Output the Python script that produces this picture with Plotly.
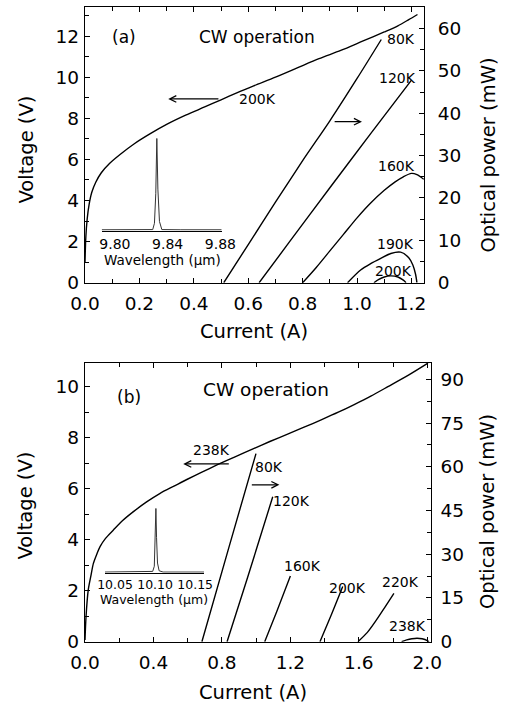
import plotly.graph_objects as go

W, H = 508, 707

# ---------------- Panel (a) data ----------------
a_iv_I = [0.0, 0.003, 0.008, 0.015, 0.025, 0.04, 0.06, 0.09, 0.13, 0.18, 0.24, 0.30, 0.37, 0.44,
          0.50, 0.56, 0.62, 0.70, 0.78, 0.86, 0.94, 1.02, 1.10, 1.15, 1.19, 1.222]
a_iv_V = [1.0, 2.2, 3.1, 3.8, 4.4, 4.9, 5.35, 5.8, 6.25, 6.75, 7.25, 7.7, 8.15, 8.55,
          8.9, 9.25, 9.58, 10.0, 10.45, 10.9, 11.3, 11.75, 12.2, 12.5, 12.8, 13.05]

a_p80_I = [0.51, 0.60, 0.70, 0.80, 0.90, 1.00, 1.089]
a_p80_P = [0.0, 9.0, 19.0, 28.8, 38.2, 48.2, 57.4]
a_p120_I = [0.64, 0.75, 0.90, 1.05, 1.20]
a_p120_P = [0.0, 9.5, 22.4, 35.2, 47.8]
a_p160_I = [0.80, 0.85, 0.90, 0.95, 1.00, 1.05, 1.10, 1.14, 1.17, 1.20, 1.22, 1.245]
a_p160_P = [0.0, 3.6, 7.5, 11.4, 15.3, 18.8, 21.8, 23.8, 25.0, 25.8, 25.5, 24.4]
a_p190_I = [0.965, 1.013, 1.05, 1.087, 1.124, 1.16, 1.19, 1.205, 1.215, 1.22]
a_p190_P = [0.0, 3.0, 4.5, 5.75, 6.9, 7.2, 5.9, 4.2, 2.0, 0.0]
a_p200_I = [1.062, 1.08, 1.10, 1.124, 1.15, 1.17, 1.18]
a_p200_P = [0.0, 0.8, 1.35, 1.6, 1.35, 0.6, 0.0]

a_spec_wl = [9.790, 9.815, 9.8287, 9.8300, 9.8310, 9.8318, 9.8326, 9.8338, 9.8356, 9.850, 9.881]
a_spec_I = [0.01, 0.01, 0.012, 0.08, 0.40, 1.0, 0.45, 0.10, 0.012, 0.01, 0.01]

# ---------------- Panel (b) data ----------------
b_iv_I = [0.0, 0.006, 0.019, 0.035, 0.049, 0.07, 0.088, 0.12, 0.166, 0.22, 0.283, 0.36, 0.439,
          0.52, 0.595, 0.68, 0.771, 0.88, 0.985, 1.08, 1.184, 1.28, 1.38, 1.48, 1.573, 1.67,
          1.77, 1.89, 2.004]
b_iv_V = [0.07, 0.98, 2.03, 2.6, 3.07, 3.45, 3.73, 4.05, 4.38, 4.75, 5.1, 5.48, 5.82,
          6.1, 6.36, 6.64, 6.93, 7.26, 7.57, 7.85, 8.14, 8.41, 8.70, 9.0, 9.3, 9.63,
          10.0, 10.45, 10.92]

b_p80_I = [0.683, 0.84, 0.999]
b_p80_P = [0.0, 32.2, 64.5]
b_p120_I = [0.83, 0.95, 1.097]
b_p120_P = [0.0, 22.0, 49.7]
b_p160_I = [1.05, 1.12, 1.20]
b_p160_P = [0.0, 10.3, 22.5]
b_p200_I = [1.373, 1.44, 1.506]
b_p200_P = [0.0, 9.3, 18.9]
b_p220_I = [1.595, 1.65, 1.70, 1.75, 1.805]
b_p220_P = [0.0, 3.2, 7.2, 11.6, 16.6]
b_p238_I = [1.85, 1.88, 1.91, 1.94, 1.97, 2.0, 2.01]
b_p238_P = [0.0, 0.6, 1.0, 1.2, 1.0, 0.4, 0.0]

b_spec_wl = [10.0375, 10.09, 10.097, 10.099, 10.1005, 10.101, 10.1018, 10.103, 10.105, 10.11, 10.161]
b_spec_I = [0.01, 0.01, 0.02, 0.10, 0.60, 1.0, 0.55, 0.15, 0.03, 0.01, 0.01]

# text labels
a_labels = [("80K", 1.163, 57.5), ("120K", 1.149, 48.3), ("160K", 1.145, 27.5),
            ("190K", 1.142, 9.1), ("200K", 1.134, 2.75)]
b_labels = [("80K", 1.077, 59.8), ("120K", 1.209, 48.3), ("160K", 1.27, 25.8),
            ("200K", 1.531, 18.25), ("220K", 1.841, 20.65), ("238K", 1.882, 5.4)]

FONT = "DejaVu Sans"
LW = 1.4


def px_x(p):
    return p / W


def px_y(p):
    return 1 - p / H


fig = go.Figure()


def line(x, y, xa, ya, color="black", width=LW, smooth=True):
    fig.add_trace(go.Scatter(x=x, y=y, xaxis=xa, yaxis=ya, mode="lines",
                             line=dict(color=color, width=width,
                                       shape="spline" if smooth else "linear",
                                       smoothing=0.8),
                             showlegend=False, hoverinfo="skip"))


# panel (a)
line(a_iv_I, a_iv_V, "x", "y")
for xs, ys in [(a_p80_I, a_p80_P), (a_p120_I, a_p120_P), (a_p160_I, a_p160_P),
               (a_p190_I, a_p190_P), (a_p200_I, a_p200_P)]:
    line(xs, ys, "x", "y2")
line(a_spec_wl, a_spec_I, "x3", "y5", color="#333", width=1.0, smooth=False)

# panel (b)
line(b_iv_I, b_iv_V, "x2", "y3")
for xs, ys in [(b_p80_I, b_p80_P), (b_p120_I, b_p120_P), (b_p160_I, b_p160_P),
               (b_p200_I, b_p200_P), (b_p220_I, b_p220_P), (b_p238_I, b_p238_P)]:
    line(xs, ys, "x2", "y4")
line(b_spec_wl, b_spec_I, "x4", "y6", color="#333", width=1.0, smooth=False)

tickfont = dict(family=FONT, size=18.5, color="black")
common = dict(showline=True, linecolor="black", linewidth=1.3, ticks="inside",
              ticklen=5, tickwidth=1.2, tickcolor="black", showgrid=False,
              zeroline=False, tickfont=tickfont, automargin=False)
minor_c = dict(ticks="inside", ticklen=4, tickcolor="black", tickwidth=1.1)

fig.update_layout(
    width=W, height=H, margin=dict(l=0, r=0, t=0, b=0, autoexpand=False),
    paper_bgcolor="white", plot_bgcolor="rgba(0,0,0,0)",
    showlegend=False,
    xaxis=dict(domain=[px_x(85), px_x(424)], range=[0, 1.246], anchor="y",
               tickvals=[0, 0.2, 0.4, 0.6, 0.8, 1.0, 1.2], tickformat=".1f",
               mirror="ticks", ticklabelstandoff=4,
               minor=dict(dtick=0.1, **minor_c), **common),
    yaxis=dict(domain=[px_y(282.7), px_y(7.3)], range=[0, 13.4], anchor="x",
               dtick=2, minor=dict(dtick=1, **minor_c), ticklabelstandoff=1, **common),
    yaxis2=dict(domain=[px_y(282.7), px_y(7.3)], range=[0, 65], anchor="x",
                overlaying="y", side="right", dtick=10,
                minor=dict(dtick=5, **minor_c), ticklabelstandoff=9, **common),
    xaxis2=dict(domain=[px_x(85), px_x(430.7)], range=[0, 2.02], anchor="y3",
                tickvals=[0, 0.4, 0.8, 1.2, 1.6, 2.0], tickformat=".1f",
                mirror="ticks", ticklabelstandoff=4,
                minor=dict(dtick=0.2, **minor_c), **common),
    yaxis3=dict(domain=[px_y(641.7), px_y(362.7)], range=[0, 10.94], anchor="x2",
                dtick=2, minor=dict(dtick=1, **minor_c), ticklabelstandoff=1, **common),
    yaxis4=dict(domain=[px_y(641.7), px_y(362.7)], range=[0, 95.7], anchor="x2",
                overlaying="y3", side="right", dtick=15,
                minor=dict(dtick=7.5, **minor_c), ticklabelstandoff=5, **common),
    xaxis3=dict(domain=[px_x(101.7), px_x(221.7)], range=[9.79, 9.881], anchor="y5",
                showline=True, linecolor="black", linewidth=1.0, ticks="",
                tickvals=[9.80, 9.84, 9.88], tickformat=".2f", showgrid=False,
                zeroline=False, tickangle=0, automargin=False,
                tickfont=dict(family=FONT, size=14, color="black")),
    yaxis5=dict(domain=[px_y(230.7), px_y(138.3)], range=[0, 1], anchor="x3",
                visible=False),
    xaxis4=dict(domain=[px_x(105), px_x(204)], range=[10.0375, 10.161], anchor="y6",
                showline=True, linecolor="black", linewidth=1.0, ticks="",
                tickvals=[10.05, 10.10, 10.15], tickformat=".2f", showgrid=False,
                zeroline=False, tickangle=0, automargin=False,
                tickfont=dict(family=FONT, size=12.5, color="black")),
    yaxis6=dict(domain=[px_y(572.7), px_y(508.3)], range=[0, 1], anchor="x4",
                visible=False),
)

ann = []


def txt(t, x, y, size, xref="paper", yref="paper", angle=0, paper=True):
    if paper:
        x, y = px_x(x), px_y(y)
    ann.append(dict(text=t, x=x, y=y, xref=xref, yref=yref, showarrow=False,
                    textangle=angle, xanchor="center", yanchor="middle",
                    font=dict(family=FONT, size=size, color="black")))


# axis titles
txt("Voltage (V)", 25.5, 150, 19.5, angle=-90)
txt("Optical power (mW)", 487.5, 155, 19.5, angle=-90)
txt("Current (A)", 253.5, 331, 19.5)
txt("Voltage (V)", 25.5, 506, 19.5, angle=-90)
txt("Optical power (mW)", 487.5, 511.5, 19.5, angle=-90)
txt("Current (A)", 252.5, 692, 19.5)

# panel titles
txt("(a)", 123.5, 37, 17)
txt("CW operation", 257.3, 37, 17)
txt("(b)", 129, 396.5, 17)
txt("CW operation", 266, 390, 18.5)

# inset titles
txt("Wavelength (µm)", 162, 260, 13.5)
txt("Wavelength (µm)", 153.5, 599, 12.5)

# curve labels
for t, x, y in a_labels:
    txt(t, x, y, 14, xref="x", yref="y2", paper=False)
txt("200K", 0.634, 8.94, 14, xref="x", yref="y", paper=False)
for t, x, y in b_labels:
    txt(t, x, y, 14, xref="x2", yref="y4", paper=False)
txt("238K", 0.74, 7.52, 14, xref="x2", yref="y3", paper=False)


def arrow(x0, x1, y, xref, yref):
    # arrow pointing from x0 (tail) to x1 (head)
    ann.append(dict(x=x1, y=y, ax=x0, ay=y, xref=xref, yref=yref, axref=xref, ayref=yref,
                    showarrow=True, arrowhead=5, arrowsize=1.0, arrowwidth=1.3,
                    arrowcolor="black", text=""))


arrow(0.496, 0.306, 8.94, "x", "y")
arrow(0.912, 1.018, 38.0, "x", "y2")
arrow(0.849, 0.574, 6.97, "x2", "y3")
arrow(0.966, 1.136, 53.8, "x2", "y4")

fig.update_layout(annotations=ann)
fig.write_html("out.html")
